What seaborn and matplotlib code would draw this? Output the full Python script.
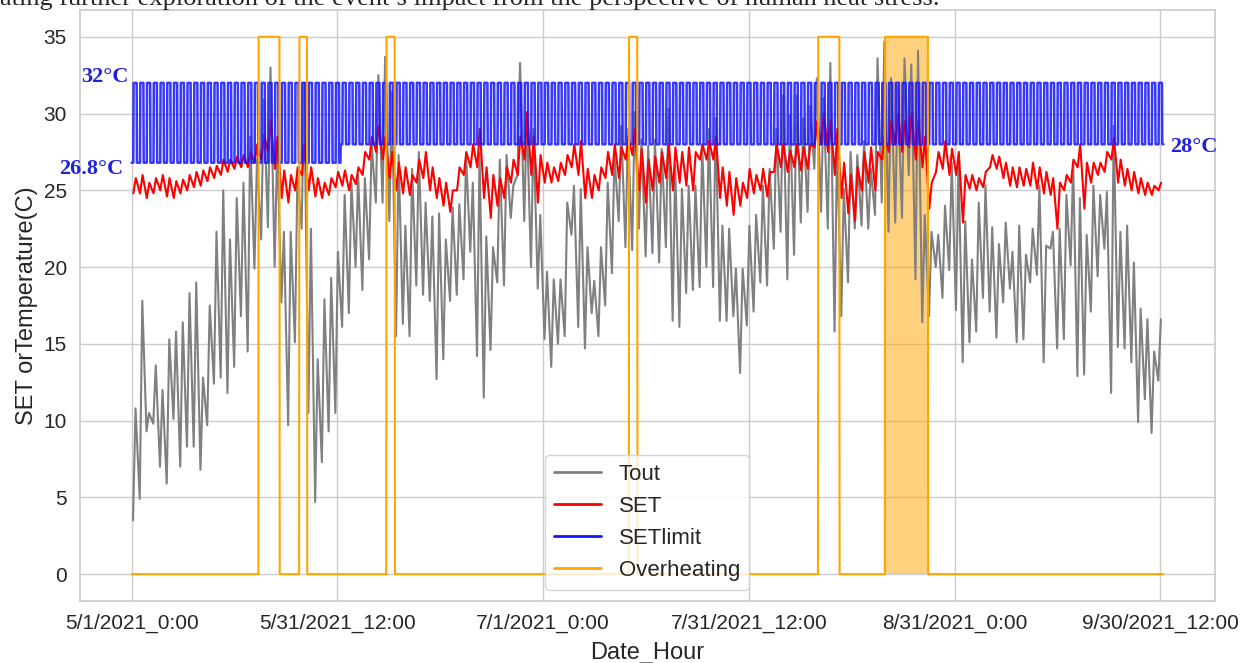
import numpy as np
import pandas as pd
import matplotlib
matplotlib.use("Agg")
import matplotlib.pyplot as plt
import seaborn as sns

# daily extremes, day 0 = 5/1/2021 (153 days, to 9/30/2021)
tout_max = [10.8, 17.8, 10.5, 13.6, 12.0, 15.3, 15.8, 16.4, 18.3, 19.0,
            12.8, 17.5, 22.3, 25.0, 21.8, 24.5, 25.5, 28.5, 27.0, 30.9,
            33.0, 28.0, 22.3, 22.3, 26.0, 32.0, 22.5, 14.0, 17.9, 19.3,
            21.0, 24.7, 25.5, 26.0, 25.8, 28.0, 32.5, 33.7, 31.4, 27.3,
            22.7, 26.4, 27.5, 24.2, 23.3, 23.5, 21.8, 23.9, 24.1, 27.3,
            25.5, 27.5, 22.0, 21.3, 27.0, 27.3, 25.3, 33.3, 30.0, 29.0,
            23.4, 19.7, 19.2, 19.2, 24.2, 25.3, 25.1, 21.3, 19.1, 21.3,
            25.5, 27.3, 29.2, 29.0, 30.1, 28.3, 27.9, 28.3, 27.7, 30.3,
            26.6, 25.1, 25.3, 25.3, 27.9, 29.0, 29.7, 22.7, 22.5, 19.9,
            19.9, 22.7, 23.4, 25.3, 26.4, 29.0, 31.2, 29.9, 31.2, 29.7,
            30.5, 32.3, 31.0, 33.3, 28.2, 25.1, 27.5, 27.3, 28.2, 26.4,
            33.6, 34.7, 32.3, 31.8, 33.6, 33.2, 34.1, 23.4, 22.3, 22.1,
            24.0, 26.8, 26.8, 23.0, 20.5, 24.2, 25.3, 22.6, 21.5, 22.9,
            21.0, 22.7, 20.8, 22.5, 25.3, 21.4, 22.3, 22.5, 24.7, 26.8,
            24.5, 22.1, 25.3, 24.7, 24.9, 29.2, 22.3, 22.7, 20.3, 17.3,
            16.6, 14.5, 16.6]
tout_min = [3.5, 4.9, 9.3, 9.8, 7.0, 5.9, 10.1, 7.0, 8.3, 8.3,
            6.8, 9.7, 12.4, 12.8, 11.8, 13.5, 16.8, 14.5, 19.9, 21.8,
            22.6, 20.0, 17.7, 9.7, 15.1, 22.5, 10.5, 4.7, 7.3, 9.3,
            10.5, 16.1, 17.0, 20.0, 18.5, 20.5, 24.2, 24.2, 23.0, 15.5,
            16.3, 15.5, 18.8, 18.2, 17.8, 12.7, 14.0, 17.8, 18.2, 19.2,
            21.0, 14.2, 11.5, 14.6, 19.0, 18.8, 23.2, 26.0, 23.0, 20.0,
            18.6, 15.3, 13.5, 15.0, 15.5, 22.1, 16.1, 14.7, 17.0, 15.5,
            17.5, 19.6, 23.0, 21.3, 21.1, 22.5, 20.7, 20.9, 20.3, 21.3,
            16.5, 16.1, 18.3, 18.5, 18.7, 20.0, 18.7, 16.5, 16.5, 16.8,
            13.1, 16.2, 17.1, 19.0, 18.8, 21.2, 22.3, 19.2, 20.8, 22.9,
            23.6, 26.4, 23.6, 22.5, 15.8, 16.8, 19.0, 22.5, 22.7, 22.5,
            23.4, 24.2, 22.3, 22.9, 23.2, 26.0, 19.2, 16.4, 16.8, 20.0,
            18.0, 19.8, 17.2, 13.8, 15.1, 15.8, 18.0, 17.1, 15.4, 17.7,
            18.6, 15.1, 15.3, 19.0, 19.5, 13.8, 21.2, 14.7, 15.3, 20.1,
            12.9, 13.0, 17.1, 19.4, 21.2, 11.8, 14.8, 14.7, 13.8, 9.9,
            11.4, 9.2, 12.6]
set_max = [25.8, 26.0, 25.5, 25.8, 26.0, 25.8, 25.6, 25.7, 26.0, 26.2,
           26.3, 26.5, 26.6, 27.0, 27.0, 27.2, 27.3, 27.5, 28.0, 28.6,
           29.5, 28.5, 26.3, 26.0, 26.5, 28.0, 26.5, 25.8, 25.5, 25.8,
           26.2, 26.3, 26.0, 26.5, 27.5, 28.5, 29.2, 28.5, 27.5, 26.8,
           26.5, 26.0, 27.0, 27.5, 26.5, 25.8, 25.5, 25.0, 26.5, 27.5,
           28.0, 29.0, 26.5, 26.0, 25.8, 26.5, 27.0, 28.5, 30.1, 28.5,
           27.3, 26.8, 26.5, 26.8, 27.3, 28.0, 28.2, 26.4, 26.0, 26.5,
           27.5, 28.0, 27.8, 28.5, 29.0, 27.7, 27.0, 27.2, 27.5, 28.0,
           27.8, 27.5, 27.8, 27.5, 28.0, 28.2, 28.5, 26.5, 26.2, 25.8,
           25.5, 26.4, 26.0, 26.4, 26.2, 28.0, 28.0, 27.6, 28.0, 27.8,
           28.0, 29.5, 30.0, 29.5, 29.0, 26.8, 26.0, 26.5, 27.5, 27.8,
           27.5, 28.5, 29.5, 30.0, 29.5, 30.0, 29.5, 28.5, 25.5, 27.5,
           28.2, 27.7, 27.5, 26.0, 26.0, 25.8, 26.2, 27.3, 27.2, 26.8,
           26.5, 26.5, 26.4, 26.8, 26.5, 26.2, 25.8, 25.5, 26.0, 27.0,
           28.0, 26.8, 26.8, 26.8, 27.5, 28.4, 27.0, 26.4, 26.2, 25.8,
           25.5, 25.3, 25.5]
set_min = [24.8, 24.8, 24.5, 24.8, 25.0, 24.6, 24.5, 24.8, 25.0, 25.2,
           25.3, 25.6, 25.8, 26.0, 26.2, 26.4, 26.5, 26.5, 26.8, 27.0,
           27.5, 26.4, 24.5, 24.2, 25.0, 26.0, 25.0, 24.6, 24.5, 24.7,
           25.2, 25.3, 25.0, 25.4, 26.0, 27.0, 27.5, 27.0, 25.8, 25.0,
           24.8, 24.7, 25.5, 25.8, 25.0, 24.5, 24.0, 23.6, 25.0, 26.0,
           26.5, 26.5, 24.5, 23.2, 24.0, 24.5, 25.5, 26.0, 27.0, 26.0,
           24.2, 25.5, 25.5, 25.6, 26.0, 26.5, 26.0, 24.5, 24.5, 25.0,
           25.8, 26.0, 25.8, 27.0, 27.3, 25.0, 24.2, 25.0, 25.5, 25.8,
           25.0, 25.5, 25.3, 25.0, 27.0, 27.0, 27.0, 24.5, 24.0, 23.4,
           24.0, 24.5, 24.8, 25.0, 24.6, 26.2, 26.5, 26.2, 26.5, 26.3,
           26.4, 27.8, 28.0, 27.5, 26.0, 24.5, 23.5, 23.0, 25.0, 25.5,
           25.0, 27.0, 27.5, 28.0, 27.5, 27.8, 27.0, 26.5, 23.8, 26.2,
           26.4, 26.0, 26.0, 22.9, 25.1, 25.0, 25.2, 26.5, 26.4, 25.8,
           25.3, 25.2, 25.3, 25.3, 25.1, 24.8, 24.7, 22.5, 25.0, 25.5,
           26.5, 23.8, 25.5, 26.0, 26.2, 27.0, 25.5, 25.3, 25.0, 24.8,
           24.7, 24.7, 25.0]

# SET limit schedule
setlimit_high = 32.0
setlimit_low = [26.8, 28.0]      # May, then Jun-Sep
setlimit_switch_day = 31
setlimit_high_hours = (7, 19)

# overheating flag periods as (start hour row, end hour row)
overheat_periods = [(452, 526), (597, 624), (907, 936), (1770, 1799), (2443, 2518), (2681, 2833)]
overheat_dense = [(2681, 2833)]
overheat_level = 35

tick_rows = [0, 732, 1464, 2196, 2928, 3660]
tick_labels = ["5/1/2021_0:00", "5/31/2021_12:00", "7/1/2021_0:00",
               "7/31/2021_12:00", "8/31/2021_0:00", "9/30/2021_12:00"]

# build tables
n_days = len(tout_max)
days = np.arange(n_days)
tout = pd.DataFrame({"row": np.concatenate([days * 24 + 5, days * 24 + 14]),
                     "value": tout_min + tout_max}).sort_values("row")
set_df = pd.DataFrame({"row": np.concatenate([days * 24 + 6, days * 24 + 15]),
                       "value": set_min + set_max}).sort_values("row")

rows = np.arange(n_days * 24)
hour = rows % 24
low = np.where(rows // 24 < setlimit_switch_day, setlimit_low[0], setlimit_low[1])
limit = np.where((hour >= setlimit_high_hours[0]) & (hour < setlimit_high_hours[1]), setlimit_high, low)
flag = np.zeros(len(rows))
for s, e in overheat_periods:
    flag[s:e + 1] = overheat_level

sns.set_theme(style="whitegrid")
plt.rcParams["font.family"] = ["Liberation Sans", "DejaVu Sans"]

fig, ax = plt.subplots(figsize=(12.58, 6.63), dpi=100)
fig.subplots_adjust(left=0.0636, right=0.9658, top=0.985, bottom=0.0935)

sns.lineplot(data=tout, x="row", y="value", color="gray", lw=1.5, label="Tout", ax=ax)
sns.lineplot(data=set_df, x="row", y="value", color="red", lw=1.5, label="SET", ax=ax)
sns.lineplot(x=rows, y=limit, color="#1414ff", lw=1.8, alpha=0.85, label="SETlimit", ax=ax)
sns.lineplot(x=rows, y=flag, color="orange", lw=1.5, label="Overheating", ax=ax)
for s, e in overheat_dense:
    ax.fill_between([s, e], 0, overheat_level, color="orange", alpha=0.5, lw=0)

ax.set_xticks(tick_rows, tick_labels)
ax.set_yticks(range(0, 36, 5))
ax.tick_params(labelsize=15)
ax.set_xlabel("Date_Hour", fontsize=17, labelpad=6)
ax.set_ylabel("SET orTemperature(C)", fontsize=17)

leg = ax.legend(loc="lower left", bbox_to_anchor=(0.41, 0.0186), borderaxespad=0,
                fontsize=16, labelspacing=0.5, handlelength=2.1, handletextpad=0.8)
for line in leg.get_lines():
    line.set_linewidth(2.0)
    line.set_alpha(1.0)

ann = dict(color="#2222dd", fontsize=16, fontweight="bold", family="Liberation Serif",
           va="center", clip_on=False)
ax.text(-12, 32.4, "32°C", ha="right", **ann)
ax.text(-30, 26.4, "26.8°C", ha="right", **ann)
ax.text(3695, 27.8, "28°C", ha="left", **ann)

fig.text(0.0, 1 - 5 / 663, "ating further exploration of the event’s impact from the perspective of human heat stress.",
         family="Liberation Serif", fontsize=19, va="baseline", ha="left")

fig.savefig("out.png", dpi=100)
